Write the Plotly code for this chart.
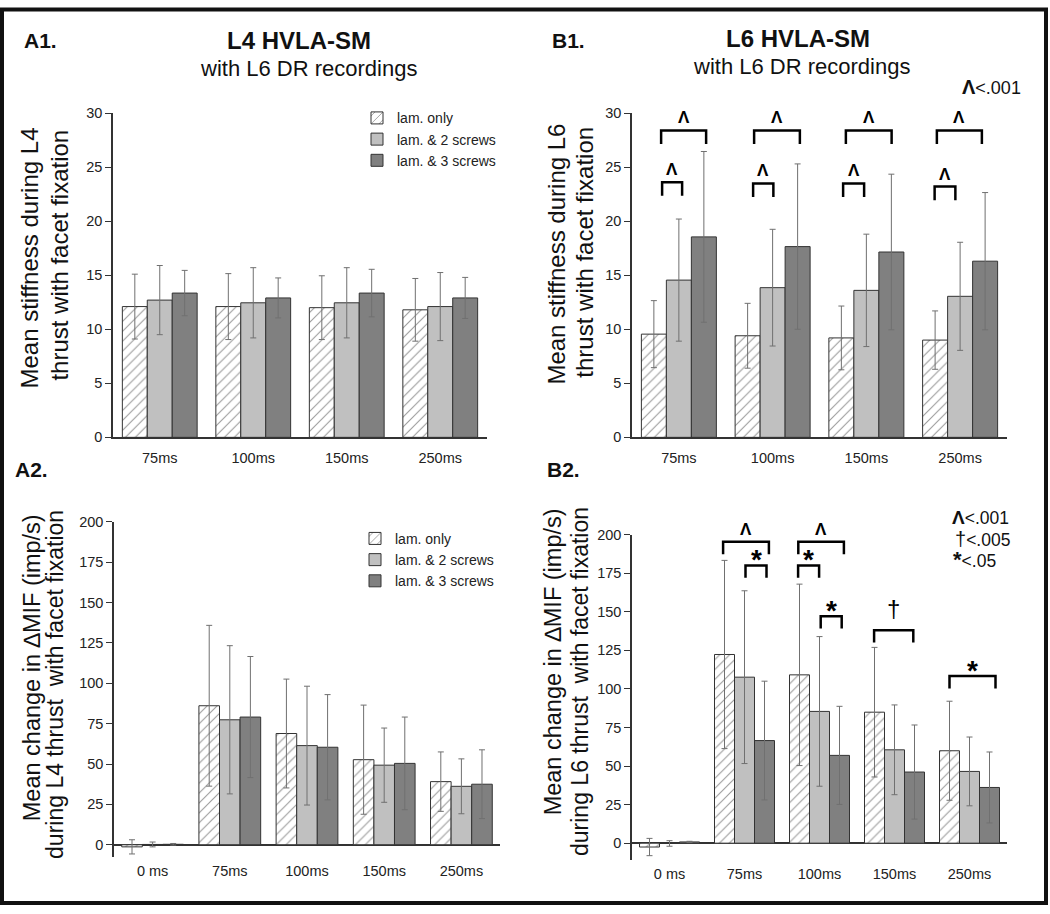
import plotly.graph_objects as go

W, H = 1050, 914

# ---------------- data ----------------
cats_top = ["75ms", "100ms", "150ms", "250ms"]
cats_bot = ["0 ms", "75ms", "100ms", "150ms", "250ms"]
series_names = ["lam. only", "lam. & 2 screws", "lam. & 3 screws"]

# A1: L4 HVLA-SM stiffness
a1_lam = [12.1, 12.1, 12.0, 11.8]
a1_lam_sd = [3.0, 3.05, 2.95, 2.9]
a1_s2 = [12.7, 12.45, 12.45, 12.1]
a1_s2_sd = [3.2, 3.25, 3.25, 3.15]
a1_s3 = [13.35, 12.9, 13.35, 12.9]
a1_s3_sd = [2.1, 1.85, 2.2, 1.9]

# B1: L6 HVLA-SM stiffness
b1_lam = [9.55, 9.4, 9.2, 9.0]
b1_lam_sd = [3.1, 3.0, 2.95, 2.7]
b1_s2 = [14.55, 13.85, 13.6, 13.05]
b1_s2_sd = [5.65, 5.4, 5.2, 5.0]
b1_s3 = [18.55, 17.65, 17.15, 16.3]
b1_s3_sd = [7.9, 7.65, 7.2, 6.35]

# A2: L4 thrust, change in MIF
a2_lam = [-1.3, 86.1, 68.9, 52.7, 39.1]
a2_lam_sd = [4.4, 49.8, 33.7, 33.8, 18.4]
a2_s2 = [0.2, 77.4, 61.4, 49.3, 36.2]
a2_s2_sd = [1.5, 45.9, 36.8, 23.0, 17.0]
a2_s3 = [0.3, 79.1, 60.4, 50.4, 37.5]
a2_s3_sd = [0.5, 37.5, 32.6, 28.7, 21.3]

# B2: L6 thrust, change in MIF
b2_lam = [-2.5, 122.3, 109.1, 84.9, 59.9]
b2_lam_sd = [5.6, 61.0, 58.8, 42.0, 32.1]
b2_s2 = [-0.2, 107.6, 85.4, 60.5, 46.5]
b2_s2_sd = [1.8, 56.0, 48.5, 29.1, 22.3]
b2_s3 = [0.8, 66.5, 56.9, 46.1, 36.1]
b2_s3_sd = [0.4, 38.5, 31.8, 30.5, 23.0]

# significance brackets (group index, start/end in bar widths from group centre, level, mark)
b1_brk_group = [0, 1, 2, 3, 0, 1, 2, 3]
b1_brk_from = [-0.71, -0.74, -0.82, -0.93, -0.67, -0.78, -0.93, -1.02]
b1_brk_to = [1.09, 1.09, 1.01, 0.87, 0.13, 0.03, -0.09, -0.19]
b1_brk_level = [28.4, 28.4, 28.4, 28.4, 23.6, 23.5, 23.5, 23.2]
b1_brk_mark = ["Λ"] * 8

b2_brk_group = [1, 1, 2, 2, 2, 3, 4]
b2_brk_from = [-1.07, 0.05, -1.06, -1.07, 0.06, -1.02, -1.0]
b2_brk_to = [1.22, 1.1, 1.22, -0.02, 1.11, 0.94, 1.3]
b2_brk_level = [195.3, 180, 195.3, 180, 147.1, 138, 108.3]
b2_brk_mark = ["Λ", "*", "Λ", "*", "*", "†", "*"]

FONT = "Arial, Liberation Sans, sans-serif"
BARGAP = 0.2
BW = (1 - BARGAP) / 3.0


def px(x):
    return x / W


def py(y):
    return 1 - y / H


line_style = dict(color="#333333", width=1)
styles = [
    dict(color="white", line=line_style,
         pattern=dict(shape="/", size=7, solidity=0.16, fgcolor="#3a3a3a", bgcolor="white")),
    dict(color="#c0c0c0", line=line_style),
    dict(color="#808080", line=line_style),
]

fig = go.Figure()

panels = [
    ("x", "y", cats_top, [(a1_lam, a1_lam_sd), (a1_s2, a1_s2_sd), (a1_s3, a1_s3_sd)], "legend", True),
    ("x2", "y2", cats_top, [(b1_lam, b1_lam_sd), (b1_s2, b1_s2_sd), (b1_s3, b1_s3_sd)], "legend", False),
    ("x3", "y3", cats_bot, [(a2_lam, a2_lam_sd), (a2_s2, a2_s2_sd), (a2_s3, a2_s3_sd)], "legend2", True),
    ("x4", "y4", cats_bot, [(b2_lam, b2_lam_sd), (b2_s2, b2_s2_sd), (b2_s3, b2_s3_sd)], "legend2", False),
]

for xa, ya, cats, sers, leg, show in panels:
    for i, (vals, sd) in enumerate(sers):
        fig.add_trace(go.Bar(
            x=cats, y=vals, name=series_names[i], xaxis=xa, yaxis=ya,
            marker=styles[i], legend=leg, showlegend=show,
            error_y=dict(type="data", array=sd, color="#707070", thickness=1, width=3),
        ))

shapes = []
annotations = []


def add_brackets(xref, yref, groups, froms, tos, levels, marks, leg):
    for g, f, t, lv, mk in zip(groups, froms, tos, levels, marks):
        x0 = g + f * BW
        x1 = g + t * BW
        shapes.append(dict(type="path", xref=xref, yref=yref,
                           path=f"M {x0},{lv - leg} L {x0},{lv} L {x1},{lv} L {x1},{lv - leg}",
                           line=dict(color="black", width=2.5)))
        if mk == "Λ":
            fnt = dict(family=FONT, size=17, color="black")
            txt, ys = "<b>Λ</b>", 1
        elif mk == "*":
            fnt = dict(family=FONT, size=28, color="black")
            txt, ys = "<b>*</b>", -12
        else:
            fnt = dict(family=FONT, size=24, color="black")
            txt, ys = "†", 6
        annotations.append(dict(x=(x0 + x1) / 2, y=lv, xref=xref, yref=yref, text=txt,
                                showarrow=False, xanchor="center", yanchor="bottom",
                                yshift=ys, font=fnt))


add_brackets("x2", "y2", b1_brk_group, b1_brk_from, b1_brk_to, b1_brk_level, b1_brk_mark, 1.25)
add_brackets("x4", "y4", b2_brk_group, b2_brk_from, b2_brk_to, b2_brk_level, b2_brk_mark, 8.0)


def ann(text, x, y, size, xanchor="center", bold=False, angle=0):
    annotations.append(dict(text=f"<b>{text}</b>" if bold else text, x=px(x), y=py(y),
                            xref="paper", yref="paper", showarrow=False,
                            xanchor=xanchor, yanchor="middle", textangle=angle,
                            font=dict(family=FONT, size=size, color="#111")))


# titles and panel labels
ann("A1.", 22, 33, 21, "left", True)
ann("B1.", 550, 33, 21, "left", True)
ann("A2.", 13, 470, 21, "left", True)
ann("B2.", 545, 470, 21, "left", True)
ann("L4 HVLA-SM", 299, 33, 24, bold=True)
ann("with L6 DR recordings", 308, 62, 22, )
ann("L6 HVLA-SM", 798, 31, 24, bold=True)
ann("with L6 DR recordings", 801, 60, 22)

# y-axis titles
ann("Mean stiffness during L4", 30, 255, 24, angle=-90)
ann("thrust with facet fixation", 60, 252, 24, angle=-90)
ann("Mean stiffness during L6", 557, 251, 24, angle=-90)
ann("thrust with facet fixation", 585, 249, 24, angle=-90)
ann("Mean change in ∆MIF (imp/s)", 32, 672, 23.5, angle=-90)
ann("during L4 thrust &nbsp;with facet fixation", 55, 689, 23, angle=-90)
ann("Mean change in ∆MIF (imp/s)", 553, 666, 23.5, angle=-90)
ann("during L6 thrust &nbsp;with facet fixation", 580, 686, 23, angle=-90)

# significance keys
ann("<b><span style='font-size:20px'>Λ</span></b>&lt;.001", 960, 80, 18, "left")
ann("<b><span style='font-size:19px'>Λ</span></b>&lt;.001", 950, 519, 17.5, "left")
ann("<span style='font-size:20px'>†</span>&lt;.005", 953, 540, 17.5, "left")
ann("<b><span style='font-size:22px'>*</span></b>&lt;.05", 951, 561, 17.5, "left")

# outer frame
shapes.append(dict(type="rect", xref="paper", yref="paper", x0=px(2), x1=px(1046),
                   y0=py(911), y1=py(1.5), line=dict(color="#111", width=4)))

tickfont = dict(family=FONT, size=14.5, color="#222")


def xax(domain, anchor, rng, showline, standoff):
    return dict(domain=domain, anchor=anchor, type="category", range=rng,
                showline=showline, linecolor="#333", linewidth=1.5, ticks="",
                showgrid=False, zeroline=False, tickfont=tickfont,
                ticklabelstandoff=standoff, fixedrange=True)


def yax(domain, anchor, rng, dtick, zeroline):
    return dict(domain=domain, anchor=anchor, range=rng, dtick=dtick, tick0=0,
                showline=True, linecolor="#333", linewidth=1.5, ticks="outside",
                ticklen=6, tickcolor="#333", tickwidth=1.2, showgrid=False,
                zeroline=zeroline, zerolinecolor="#333", zerolinewidth=1.5,
                tickfont=tickfont, fixedrange=True)


fig.update_layout(
    width=W, height=H, margin=dict(l=0, r=0, t=0, b=0),
    paper_bgcolor="white", plot_bgcolor="white",
    font=dict(family=FONT, color="#222"),
    barmode="group", bargap=BARGAP, bargroupgap=0,
    xaxis=xax([px(113), px(487)], "y", [-0.5, 3.5], True, 6),
    yaxis=yax([py(437), py(107)], "x", [0, 30], 5, False),
    xaxis2=xax([px(632), px(1007)], "y2", [-0.5, 3.5], True, 6),
    yaxis2=yax([py(437), py(107)], "x2", [0, 30], 5, False),
    xaxis3=xax([px(114), px(500)], "y3", [-0.5, 4.5], False, 4),
    yaxis3=yax([py(864), py(523)], "x3", [-7.5, 200], 25, True),
    xaxis4=xax([px(632), px(1007)], "y4", [-0.5, 4.5], False, 4),
    yaxis4=yax([py(867), py(536)], "x4", [-10.8, 200], 25, True),
    legend=dict(x=px(357), y=py(96), xanchor="left", yanchor="top",
                font=dict(family=FONT, size=14, color="#222"),
                bgcolor="rgba(0,0,0,0)", tracegroupgap=0, itemwidth=30),
    legend2=dict(x=px(355), y=py(524), xanchor="left", yanchor="top",
                 font=dict(family=FONT, size=14, color="#222"),
                 bgcolor="rgba(0,0,0,0)", tracegroupgap=0, itemwidth=30),
    shapes=shapes, annotations=annotations,
)

fig.write_html("out.html", config={"displayModeBar": False},
               post_script="document.body.style.margin='0';document.body.style.overflow='hidden';")
